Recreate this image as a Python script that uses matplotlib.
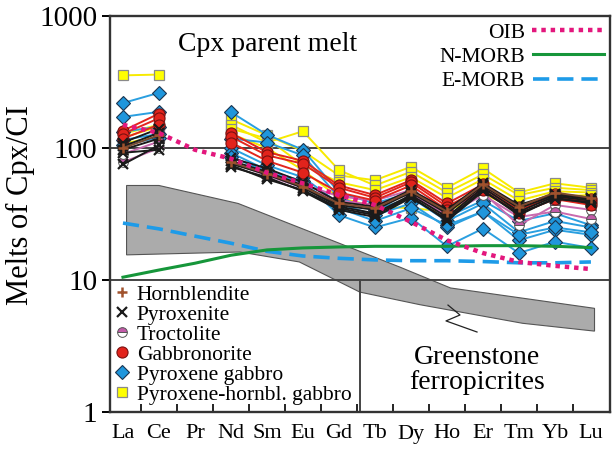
import numpy as np
import matplotlib
matplotlib.use('Agg')
import matplotlib.pyplot as plt
import matplotlib.ticker as ticker
from matplotlib.lines import Line2D

plt.rcParams['font.family'] = ['Liberation Serif', 'DejaVu Serif']

nan = np.nan
ELEMENTS = ['La', 'Ce', 'Pr', 'Nd', 'Sm', 'Eu', 'Gd', 'Tb', 'Dy', 'Ho', 'Er', 'Tm', 'Yb', 'Lu']

# chondrite-normalised melts in equilibrium with Cpx, one row per sample
hornbl_gabbro = [
    [355, 360, nan, 165, 125, 95, 62, 57, 72, 50, 70, 46, 54, 50],
    [128, 150, nan, 150, 110, 134, 68, 52, 66, 46, 63, 44, 50, 48],
    [120, 145, nan, 140, 118, 74, 55, 48, 60, 42, 58, 40, 47, 46],
    [108, 122, nan, 128, 100, 68, 42, 36, 35, 33, 45, 34, 43, 44],
]
pyx_gabbro = [
    [219, 262, nan, 187, 126, 97, 46, 38, 46, 30, 40, 28, 32, 26],
    [172, 188, nan, 118, 110, 88, 42, 34, 42, 28, 38, 23, 28, 25],
    [133, 145, nan, 100, 74, 60, 38, 31, 38, 25, 33, 20, 24, 22],
    [115, 128, nan, 92, 68, 56, 31, 25, 29.6, 18, 24.5, 16, 19.5, 17.5],
    [105, 120, nan, 86, 66, 54, 35, 28, 35, 26, 33, 22, 25, 23],
]
troctolite = [
    [78, 100, nan, 80, 64, 53, 43, 40, 48, 34, 46, 26, 37, 34],
    [90, 112, nan, 78, 62, 50, 40, 37, 45, 31, 44, 30, 33, 29],
]
gabbronorite = [
    [135, 182, nan, 130, 93, 80, 52, 44, 57, 38, 53, 36, 45, 41],
    [128, 168, nan, 122, 88, 76, 50, 42, 55, 36, 50, 34, 43, 39],
    [118, 150, nan, 110, 80, 65, 46, 40, 52, 34, 48, 32, 41, 37],
]
pyroxenite = [
    [110, 140, nan, 84, 70, 55, 39, 36, 48, 34, 54, 37, 45, 42],
    [103, 130, nan, 80, 66, 52, 37, 34, 46, 32, 52, 35, 44, 41],
    [97, 118, nan, 76, 63, 50, 36, 32, 44, 30, 50, 33, 43, 40],
    [92, 97, nan, 72, 60, 47, 34, 30, 42, 29, 48, 31, 42, 38],
    [75, 105, nan, 74, 58, 48, 35, 31, 43, 28, 47, 32, 41, 39],
]
hornblendite = [
    [100, 125, nan, 78, 64, 51, 38, 35, 47, 33, 53, 36, 46, 42],
]

# reference basalts
oib = [150, 130, 97, 83, 65, 54, 44, 37, 27.6, 20, 16, 13.7, 12.8, 12.1]
n_morb = [10.5, 11.9, 13.4, 15.4, 16.9, 17.5, 17.8, 18, 18, 18, 18.2, 18.2, 18, 17.6]
e_morb = [27, 24.4, 21.5, 19, 16.5, 15.2, 14.6, 14.2, 14, 14, 13.8, 13.5, 13.5, 13.7]

# greenstone ferropicrite field (outline, element index / value)
band_x = [0.1, 1.0, 3.2, 7.7, 9.1, 13.1, 13.1, 11.1, 8.25, 6.58, 4.9, 3.25, 0.1]
band_y = [52, 52, 38, 12.5, 8.7, 6.1, 4.1, 4.7, 6.5, 8.1, 13.7, 16.3, 15.5]

# drawing order of the rock groups (bottom to top)
STYLES = {
    'Pyroxene-hornbl. gabbro': (hornbl_gabbro, '#f7ea00',
        dict(marker='s', ms=7.5, mfc='#ffff00', mec='#8a8a8a', mew=0.9)),
    'Pyroxene gabbro': (pyx_gabbro, '#2a9fe0',
        dict(marker='D', ms=7.5, mfc='#1f96dc', mec='#1b3550', mew=0.8)),
    'Troctolite': (troctolite, '#c86aae',
        dict(marker='o', ms=7, mfc='#c25aa8', mec='#555555', mew=0.7,
             fillstyle='top', markerfacecoloralt='white')),
    'Gabbronorite': (gabbronorite, '#e2261e',
        dict(marker='o', ms=8, mfc='#e2231c', mec='#7a1010', mew=0.8)),
    'Pyroxenite': (pyroxenite, '#1a1a1a',
        dict(marker='x', ms=6.5, mfc='#1a1a1a', mec='#1a1a1a', mew=1.6)),
    'Hornblendite': (hornblendite, '#7a4a30',
        dict(marker='+', ms=7.5, mfc='#a0522d', mec='#a0522d', mew=1.8)),
}
LEGEND_ORDER = ['Hornblendite', 'Pyroxenite', 'Troctolite', 'Gabbronorite',
                'Pyroxene gabbro', 'Pyroxene-hornbl. gabbro']

x = np.arange(len(ELEMENTS))

fig = plt.figure(figsize=(6.12, 4.51), dpi=100)
ax = fig.add_axes([110/612, 1-412/451, 500/612, 396/451])
ax.set_yscale('log')
ax.set_ylim(1, 1000)
ax.set_xlim(-0.36, 13.53)

ax.fill(band_x, band_y, facecolor='#ababab', edgecolor='#555555', lw=0.8, zorder=1)

for label, (rows, color, mk) in STYLES.items():
    for row in rows:
        ax.plot(x, row, color=color, lw=1.4, zorder=3, **mk)

ax.plot(x, e_morb, color='#1e9be8', lw=2.6, ls=(0, (4.5, 2.2)), zorder=4)
ax.plot(x, n_morb, color='#16963a', lw=2.2, zorder=4)
ax.plot(x, oib, color='#e3177d', lw=3.2, ls=(0, (1, 1.1)), zorder=5)

# frame, grid and divider
for s in ax.spines.values():
    s.set_linewidth(1.7)
    s.set_color('#333333')
for v in (10, 100):
    ax.axhline(v, color='#444444', lw=1.4, zorder=2)
ax.axvline(6.58, ymin=0, ymax=1/3, color='#444444', lw=1.4, zorder=2)

ax.yaxis.set_major_locator(ticker.FixedLocator([1, 10, 100, 1000]))
ax.yaxis.set_major_formatter(ticker.FixedFormatter(['1', '10', '100', '1000']))
ax.yaxis.set_minor_locator(ticker.NullLocator())
ax.tick_params(axis='y', which='major', direction='out', length=6, width=1.4,
               labelsize=21, pad=3)
ax.set_xticks(x)
ax.set_xticklabels(ELEMENTS)
ax.set_xticks(x[:-1] + 0.5, minor=True)
ax.tick_params(axis='x', which='major', length=0, labelsize=16, pad=9)
ax.tick_params(axis='x', which='minor', direction='in', length=5.5, width=1.2)

fig.text(20/612, 1-205/451, 'Melts of Cpx/CI', rotation=90, fontsize=22,
         ha='center', va='center')
ax.text(0.136, 0.927, 'Cpx parent melt', transform=ax.transAxes, fontsize=20,
        ha='left', va='center')
ax.text(0.734, 0.106, 'Greenstone\nferropicrites', transform=ax.transAxes,
        fontsize=20, ha='center', va='center', linespacing=1.05)
ax.plot([0.676, 0.700, 0.672, 0.734], [0.270, 0.245, 0.230, 0.202],
        transform=ax.transAxes, color='#222222', lw=0.9, zorder=6)

# legends
ref_handles = [
    Line2D([], [], color='#e3177d', lw=3.2, ls=(0, (1, 1.1))),
    Line2D([], [], color='#16963a', lw=2.2),
    Line2D([], [], color='#1e9be8', lw=2.6, ls=(0, (4.5, 2.2))),
]
leg1 = ax.legend(ref_handles, ['OIB', 'N-MORB', 'E-MORB'], loc='upper right',
                 bbox_to_anchor=(1.0, 1.0), frameon=False, markerfirst=False,
                 prop={'size': 15.5}, handlelength=3.3, handletextpad=0.35,
                 labelspacing=0.2, borderaxespad=0.1, borderpad=0.2)
ax.add_artist(leg1)

rock_handles = [Line2D([], [], ls='none', **STYLES[k][2]) for k in LEGEND_ORDER]
ax.legend(rock_handles, LEGEND_ORDER, loc='upper left', bbox_to_anchor=(0.0, 0.333),
          frameon=False, prop={'size': 15.5}, handlelength=0.7, handletextpad=0.35,
          labelspacing=0.0, borderaxespad=0.1, borderpad=0.1)

fig.savefig('out.png', dpi=100)
